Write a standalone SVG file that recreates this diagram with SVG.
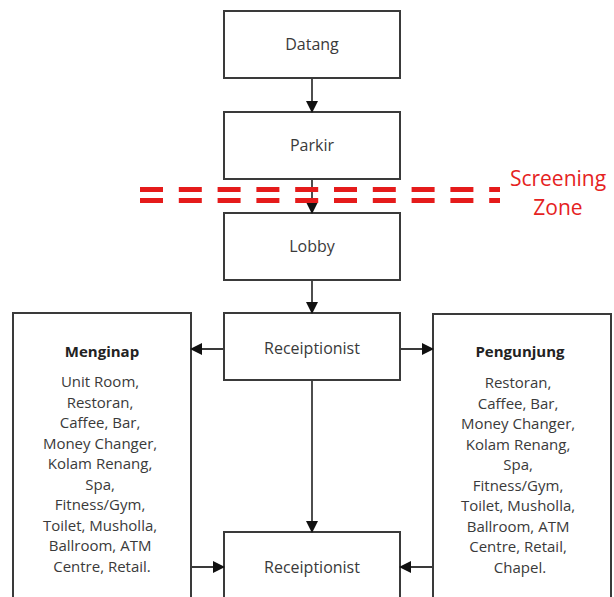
<svg xmlns="http://www.w3.org/2000/svg" width="614" height="597" viewBox="0 0 614 597">
<defs>
<marker id="ah" markerWidth="12" markerHeight="12" refX="11" refY="6" orient="auto" markerUnits="userSpaceOnUse">
<path d="M0,0 L12,6 L0,12 Z" fill="#111"/>
</marker>
<style>
.box{fill:#fff;stroke:#3a3a3a;stroke-width:2}
.lbl{font-family:"Open Sans",sans-serif;font-size:16px;fill:#3a3a3a;text-anchor:middle}
.hd{font-family:"Open Sans",sans-serif;font-size:15px;font-weight:bold;fill:#222;text-anchor:middle}
.body{font-family:"Open Sans",sans-serif;font-size:15px;fill:#3a3a3a;text-anchor:middle}
.con{stroke:#3a3a3a;stroke-width:1.8;fill:none;marker-end:url(#ah)}
.dash{stroke:#e51b1b;stroke-width:5;stroke-dasharray:23 15.8}
.red{font-family:"Open Sans",sans-serif;font-size:21px;fill:#e52222;text-anchor:middle}
</style>
</defs>
<rect width="614" height="597" fill="#fff"/>
<g id="datang"><rect class="box" x="224" y="11" width="176" height="67"/><text class="lbl" x="312" y="50">Datang</text></g>
<g id="parkir"><rect class="box" x="224" y="112" width="176" height="67"/><text class="lbl" x="312" y="151">Parkir</text></g>
<g id="lobby"><rect class="box" x="224" y="213" width="176" height="67"/><text class="lbl" x="312" y="252">Lobby</text></g>
<g id="receiptionist1"><rect class="box" x="224" y="313" width="176" height="67"/><text class="lbl" x="312" y="354">Receiptionist</text></g>
<g id="receiptionist2"><rect class="box" x="224" y="532" width="176" height="80"/><text class="lbl" x="312" y="573">Receiptionist</text></g>
<g id="menginap"><rect class="box" x="13" y="313" width="178" height="300"/>
<text class="hd" x="102" y="357">Menginap</text>
<text class="body">
<tspan x="102" y="387">Unit Room,</tspan>
<tspan x="102" y="407.5">Restoran,</tspan>
<tspan x="102" y="428">Caffee, Bar,</tspan>
<tspan x="102" y="448.5">Money Changer,</tspan>
<tspan x="102" y="469">Kolam Renang,</tspan>
<tspan x="102" y="489.5">Spa,</tspan>
<tspan x="102" y="510">Fitness/Gym,</tspan>
<tspan x="102" y="530.5">Toilet, Musholla,</tspan>
<tspan x="102" y="551">Ballroom, ATM</tspan>
<tspan x="102" y="571.5">Centre, Retail.</tspan>
</text></g>
<g id="pengunjung"><rect class="box" x="433" y="314" width="178" height="300"/>
<text class="hd" x="520" y="357">Pengunjung</text>
<text class="body">
<tspan x="520" y="388">Restoran,</tspan>
<tspan x="520" y="408.5">Caffee, Bar,</tspan>
<tspan x="520" y="429">Money Changer,</tspan>
<tspan x="520" y="449.5">Kolam Renang,</tspan>
<tspan x="520" y="470">Spa,</tspan>
<tspan x="520" y="490.5">Fitness/Gym,</tspan>
<tspan x="520" y="511">Toilet, Musholla,</tspan>
<tspan x="520" y="531.5">Ballroom, ATM</tspan>
<tspan x="520" y="552">Centre, Retail,</tspan>
<tspan x="520" y="572.5">Chapel.</tspan>
</text></g>
<g id="connectors">
<line class="con" x1="312" y1="78" x2="312" y2="112"/>
<line class="con" x1="312" y1="179" x2="312" y2="213"/>
<line class="con" x1="312" y1="280" x2="312" y2="313"/>
<line class="con" x1="224" y1="349" x2="191" y2="349"/>
<line class="con" x1="400" y1="349" x2="433" y2="349"/>
<line class="con" x1="312" y1="380" x2="312" y2="532"/>
<line class="con" x1="191" y1="567" x2="224" y2="567"/>
<line class="con" x1="433" y1="567" x2="400" y2="567"/>
</g>
<g id="screening-zone">
<line class="dash" x1="140" y1="189.5" x2="500" y2="189.5"/>
<line class="dash" x1="140" y1="200.5" x2="500" y2="200.5"/>
<text class="red" x="558" y="186">Screening</text>
<text class="red" x="558" y="215">Zone</text>
</g>
</svg>
